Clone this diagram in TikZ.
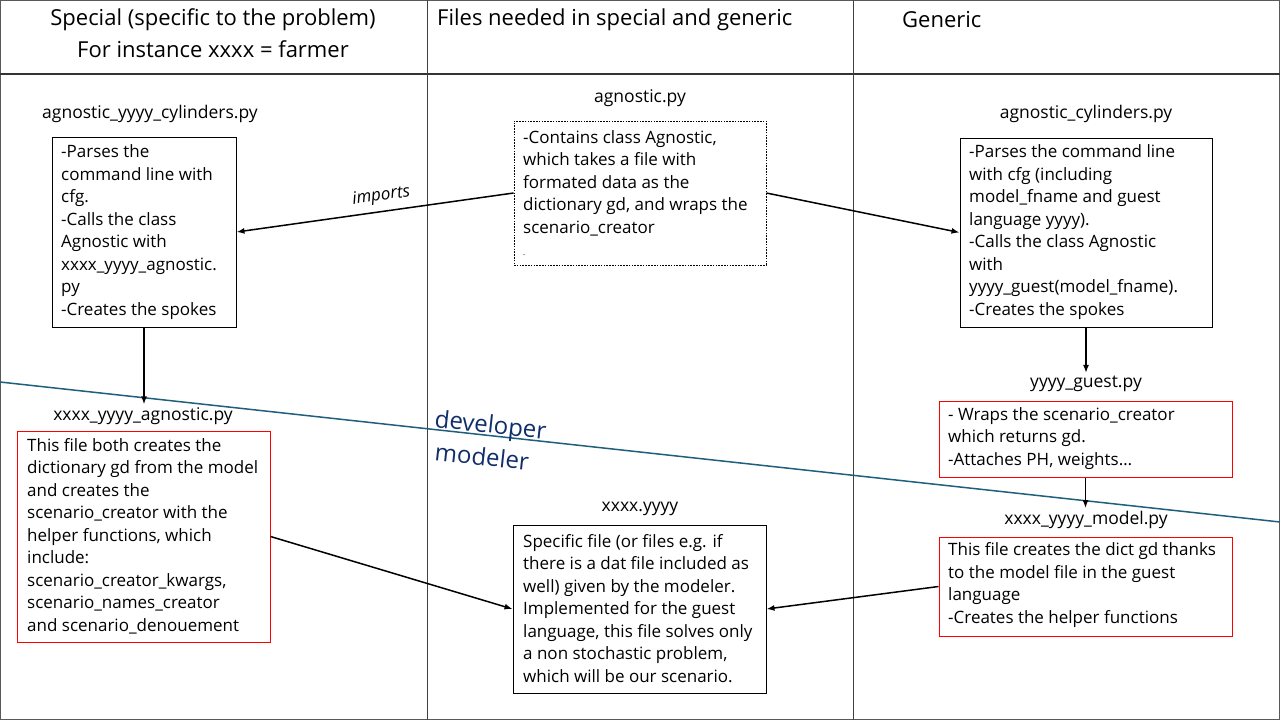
\documentclass[tikz,border=0pt]{standalone}
\usepackage{fontspec}
\setmainfont{Open Sans}
\usetikzlibrary{arrows.meta}
\definecolor{sepblue}{RGB}{31,95,125}
\definecolor{devnavy}{RGB}{16,46,106}
\definecolor{redframe}{RGB}{255,0,0}
\begin{document}
\begin{tikzpicture}[x=1pt,y=-1pt,
  body/.style={font=\fontsize{17}{22.5}\selectfont, align=left, inner sep=0pt, anchor=west},
  blackframe/.style={draw=black, line width=1pt, inner sep=0pt},
  redbox/.style={draw=redframe, line width=1pt, inner sep=0pt},
  dashbox/.style={draw=black, line width=0.8pt, dash pattern=on 1.6pt off 1.2pt, inner sep=0pt},
  lab/.style={font=\fontsize{17.5}{20}\selectfont, inner sep=3pt},
  head/.style={font=\fontsize{22}{26}\selectfont, inner sep=0pt},
  arr/.style={line width=1.5pt, -{Latex[length=8pt,width=6pt]}},
  role/.style={font=\fontsize{24}{28}\selectfont, text=devnavy, inner sep=0pt, anchor=base west, rotate=-6.24}
]
\useasboundingbox (0,0) rectangle (1280,720);
% frame and columns
\draw[black!65, line width=1pt] (0.5,0.5) rectangle (1279.5,719.5);
\draw[black!80, line width=1.2pt] (0,74) -- (1280,74);
\draw[black!75, line width=0.8pt] (427,0) -- (427,720);
\draw[black!75, line width=0.8pt] (853,0) -- (853,720);
% headers
\node[head] (h1a) at (213,20) {Special (specific to the problem)};
\node[head] (h1b) at (213,49) {For instance xxxx = farmer};
\node[head, anchor=west] (h2) at (437,20) {Files needed in special and generic};
\node[head, anchor=west] (h3) at (902,20) {Generic};
% developer / modeler separator
\draw[sepblue, line width=1.5pt] (0,382) -- (1280,522);
\node[role] (dev) at (434,427) {developer};
\node[role] (mod) at (434,460) {modeler};
% agnostic_yyyy_cylinders.py
\node[lab] (cyll) at (150,114) {agnostic\_yyyy\_cylinders.py};
\node[blackframe, minimum width=184pt, minimum height=190pt] (cylb) at (144,232) {};
\node[body] (cylt) at (61,232) {-Parses the\\command line with\\cfg.\\-Calls the class\\Agnostic with\\xxxx\_yyyy\_agnostic.\\py\\-Creates the spokes};
% agnostic.py
\node[lab] (agl) at (640,98) {agnostic.py};
\node[dashbox, minimum width=252pt, minimum height=144pt] (agb) at (640,193) {};
\node[body] (agt) at (523,193) {-Contains class Agnostic,\\which takes a file with\\formated data as the\\dictionary gd, and wraps the\\scenario\_creator\\{\fontsize{8}{10}\selectfont .}};
% agnostic_cylinders.py
\node[lab] (gcyll) at (1086,114) {agnostic\_cylinders.py};
\node[blackframe, minimum width=252pt, minimum height=189pt] (gcylb) at (1086,232.5) {};
\node[body] (gcylt) at (969,232) {-Parses the command line\\with cfg (including\\model\_fname and guest\\language yyyy).\\-Calls the class Agnostic\\with\\yyyy\_guest(model\_fname).\\-Creates the spokes};
% yyyy_guest.py
\node[lab] (gstl) at (1086,384) {yyyy\_guest.py};
\node[redbox, minimum width=293pt, minimum height=76pt] (gstb) at (1085.5,439) {};
\node[body] (gstt) at (948,438.5) {- Wraps the scenario\_creator\\which returns gd.\\-Attaches PH, weights\dots};
% xxxx_yyyy_model.py
\node[lab] (mdll) at (1086,520) {xxxx\_yyyy\_model.py};
\node[redbox, minimum width=293pt, minimum height=99pt] (mdlb) at (1085.5,586.5) {};
\node[body] (mdlt) at (948,585) {This file creates the dict gd thanks\\to the model file in the guest\\language\\-Creates the helper functions};
% xxxx_yyyy_agnostic.py
\node[lab] (xal) at (143,416) {xxxx\_yyyy\_agnostic.py};
\node[redbox, minimum width=253pt, minimum height=211pt] (xab) at (143.5,536.5) {};
\node[body] (xat) at (27,536) {This file both creates the\\dictionary gd from the model\\and creates the\\scenario\_creator with the\\helper functions, which\\include:\\scenario\_creator\_kwargs,\\scenario\_names\_creator\\and scenario\_denouement};
% xxxx.yyyy
\node[lab] (spl) at (640,509) {xxxx.yyyy};
\node[blackframe, minimum width=253pt, minimum height=168pt] (spb) at (639.5,609) {};
\node[body] (spt) at (523,608.5) {Specific file (or files e.g. if\\there is a dat file included as\\well) given by the modeler.\\Implemented for the guest\\language, this file solves only\\a non stochastic problem,\\which will be our scenario.};
% connectors
\draw[arr] (agb.west) -- (cylb.east) node[pos=0.47, above=3pt, sloped, font=\fontsize{17}{18}\selectfont\itshape] (imp) {imports};
\draw[arr] (agb.east) -- (gcylb.west);
\draw[arr] (cylb.south) -- (cylb.south |- xal.north);
\draw[arr] (gcylb.south) -- (gcylb.south |- gstl.north);
\draw[arr] (gstb.south) -- (gstb.south |- mdll.north);
\draw[arr] (xab.east) -- (spb.west);
\draw[arr] (mdlb.west) -- (spb.east);
\end{tikzpicture}
\end{document}
